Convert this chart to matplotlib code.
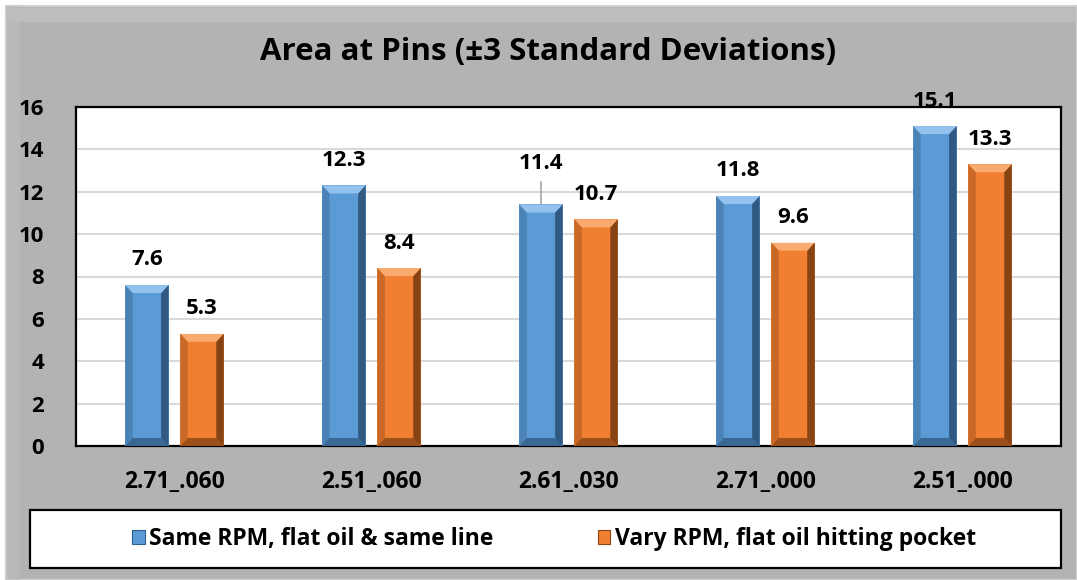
"""
Area at Pins (+/-3 standard deviations): Excel-style bevelled grouped bars.
"""
import matplotlib
matplotlib.use("Agg")
import matplotlib.pyplot as plt
from matplotlib.patches import Rectangle, Polygon
import numpy as np

# ------------------------------------------------------------------
# Data
# ------------------------------------------------------------------
categories = ["2.71_.060", "2.51_.060", "2.61_.030", "2.71_.000", "2.51_.000"]
same_rpm = [7.6, 12.3, 11.4, 11.8, 15.1]
vary_rpm = [5.3, 8.4, 10.7, 9.6, 13.3]
series_names = ["Same RPM, flat oil & same line", "Vary RPM, flat oil hitting pocket"]
y_ticks = [0, 2, 4, 6, 8, 10, 12, 14, 16]

FONT = ["Open Sans", "DejaVu Sans"]
BLUE = "#5B9BD5"
ORANGE = "#F07F32"
GRAY_BG = "#B3B3B3"
YMAX = 16

plt.rcParams["font.family"] = FONT
plt.rcParams["font.weight"] = "bold"

W, H = 1077, 580
fig = plt.figure(figsize=(W / 100, H / 100), dpi=100, facecolor="white")


def px(x, y):
    return x / W, 1 - y / H


# outer chart frame with a light bevel
fig.patches.append(Rectangle((6 / W, 0), 1 - 6 / W, 1 - 6 / H, transform=fig.transFigure,
                             facecolor=GRAY_BG, edgecolor="#D0D0D0", linewidth=1.5, zorder=-3))
fig.patches.append(Rectangle((6 / W, 1 - 22 / H), 1 - 6 / W, 14 / H, transform=fig.transFigure,
                             facecolor="#C4C4C4", edgecolor="none", zorder=-2, alpha=0.6))
fig.patches.append(Rectangle((6 / W, 0), 14 / W, 1 - 6 / H, transform=fig.transFigure,
                             facecolor="#BEBEBE", edgecolor="none", zorder=-2, alpha=0.6))

x0, y0 = px(76, 446)
x1, y1 = px(1061, 107)
ax = fig.add_axes([x0, y0, x1 - x0, y1 - y0])
ax.set_facecolor("white")

x = np.arange(len(categories))
bw = 0.22
off = 0.14


def bevel_bar(ax, xc, h, color, dark, light):
    left = xc - bw / 2
    right = xc + bw / 2
    ax.add_patch(Rectangle((left, 0), bw, h, facecolor=color, edgecolor="none", zorder=3))
    bx = 0.038
    by = 0.38
    # left edge, right shadow, top highlight, bottom shadow
    ax.add_patch(Polygon([(left, 0), (left + bx, by), (left + bx, h - by), (left, h)],
                         closed=True, facecolor=dark, edgecolor="none", alpha=0.25, zorder=4))
    ax.add_patch(Polygon([(right, 0), (right - bx, by), (right - bx, h - by), (right, h)],
                         closed=True, facecolor=dark, edgecolor="none", alpha=0.7, zorder=4))
    ax.add_patch(Polygon([(left, h), (left + bx, h - by), (right - bx, h - by), (right, h)],
                         closed=True, facecolor=light, edgecolor="none", alpha=0.6, zorder=4))
    ax.add_patch(Polygon([(left, 0), (left + bx, by), (right - bx, by), (right, 0)],
                         closed=True, facecolor=dark, edgecolor="none", alpha=0.55, zorder=4))


def value_label(xc, y, val):
    kw = dict(ha="center", va="center", fontsize=16, fontweight="bold", color="black")
    if y + 0.3 > YMAX:
        # label sticks out above the plot area: draw it behind the axes like Excel does
        fig.text(xc, y, f"{val:.1f}", transform=ax.transData, zorder=-1, **kw)
    else:
        ax.text(xc, y, f"{val:.1f}", zorder=6, clip_on=False, **kw)


for i in range(len(categories)):
    bevel_bar(ax, x[i] - off, same_rpm[i], BLUE, "#1F3F5F", "#B9DDFF")
    bevel_bar(ax, x[i] + off, vary_rpm[i], ORANGE, "#5A2A08", "#FFC899")

    # labels sit above the bars; the 11.4 label is lifted and tied with a leader line
    lift_a = 1.18
    if abs(same_rpm[i] - 11.4) < 1e-9:
        lift_a = 1.95
        ax.plot([x[i] - off, x[i] - off], [same_rpm[i], same_rpm[i] + 1.05],
                color="#A6A6A6", lw=1.2, zorder=2)
    value_label(x[i] - off, same_rpm[i] + lift_a, same_rpm[i])
    value_label(x[i] + off, vary_rpm[i] + 1.18, vary_rpm[i])

ax.set_xlim(-0.5, len(categories) - 0.5)
ax.set_ylim(0, YMAX)
ax.set_yticks(y_ticks)
ax.set_xticks(x)
ax.set_xticklabels(categories)
ax.tick_params(axis="both", length=0, labelsize=16)
ax.tick_params(axis="y", pad=23)
ax.tick_params(axis="x", labelsize=16.5, pad=17)
ax.yaxis.grid(True, color="#D9D9D9", lw=1.5, zorder=1)
ax.set_axisbelow(True)
for s in ax.spines.values():
    s.set_color("black")
    s.set_linewidth(1.6)

fig.text(548 / W, 1 - 52 / H, "Area at Pins (\u00b13 Standard Deviations)",
         ha="center", va="center", fontsize=22.5, fontweight="bold")

# legend box
lx0, ly0 = px(30, 568)
lx1, ly1 = px(1061, 510)
fig.patches.append(Rectangle((lx0, ly0), lx1 - lx0, ly1 - ly0, transform=fig.transFigure,
                             facecolor="white", edgecolor="black", linewidth=1.6, zorder=1))
handles = [Rectangle((0, 0), 1, 1, facecolor=BLUE, edgecolor="#2F5F8F", lw=0.8),
           Rectangle((0, 0), 1, 1, facecolor=ORANGE, edgecolor="#8B4513", lw=0.8)]
fig.legend(handles, series_names, loc="center", bbox_to_anchor=(554 / W, (ly0 + ly1) / 2),
           ncol=2, frameon=False, handlelength=0.55, handleheight=0.55,
           handletextpad=0.2, columnspacing=4.55, borderpad=0,
           prop={"family": FONT, "weight": "bold", "size": 16.5})

fig.savefig("out.png", dpi=100, facecolor=fig.get_facecolor())
